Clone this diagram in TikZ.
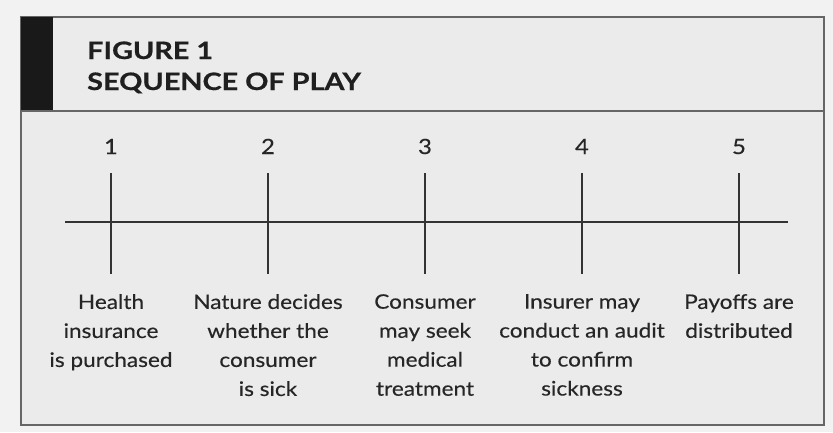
\documentclass[tikz,border=0pt]{standalone}
\usepackage{fontspec}
\newfontfamily\gill[FakeStretch=1.13,FakeBold=0.35]{Lato}
\newfontfamily\gillhead[FakeStretch=1.2,FakeBold=0.6]{Lato}
\begin{document}
\begin{tikzpicture}[x=1pt,y=-1pt,
  ink/.style={draw=black!80, line width=2.2pt},
  num/.style={font=\gill\fontsize{21}{24}\selectfont, text=black!85, anchor=base, inner sep=0pt},
  event/.style={font=\gill\fontsize{20}{29}\selectfont, text=black!85, align=center, anchor=north, inner sep=0pt},
  head/.style={font=\gillhead\bfseries\fontsize{24}{31}\selectfont, text=black!88, anchor=base west, inner sep=0pt}]
\useasboundingbox (0,0) rectangle (833,432);
\fill[black!5] (0,0) rectangle (833,432);
\fill[black!8] (21,17) rectangle (824,425);
\draw[black!60, line width=1.4pt] (21,17) rectangle (824,425);
\fill[black!90] (21,17) rectangle (53,111);
\draw[black!60, line width=1.4pt] (21,111) -- (824,111);
\node[head] (h1) at (87,59) {FIGURE 1};
\node[head] (h2) at (87,90) {SEQUENCE OF PLAY};
% timeline
\coordinate (L) at (65,222);
\coordinate (R) at (788,222);
\draw[ink] (L) -- (R);
\foreach \i/\x in {1/111,2/268,3/425,4/582,5/739}{
  \coordinate (t\i) at (\x,173);
  \coordinate (b\i) at (\x,274);
  \draw[ink] (t\i) -- (b\i);
  \node[num] (n\i) at (\x,154) {\i};
}
\node[event] (e1) at (111,294) {Health\\insurance\\is purchased};
\node[event] (e2) at (268,294) {Nature decides\\whether the\\consumer\\is sick};
\node[event] (e3) at (425,294) {Consumer\\may seek\\medical\\treatment};
\node[event] (e4) at (582,294) {Insurer may\\conduct an audit\\to confirm\\sickness};
\node[event] (e5) at (739,294) {Payoffs are\\distributed};
\end{tikzpicture}
\end{document}
